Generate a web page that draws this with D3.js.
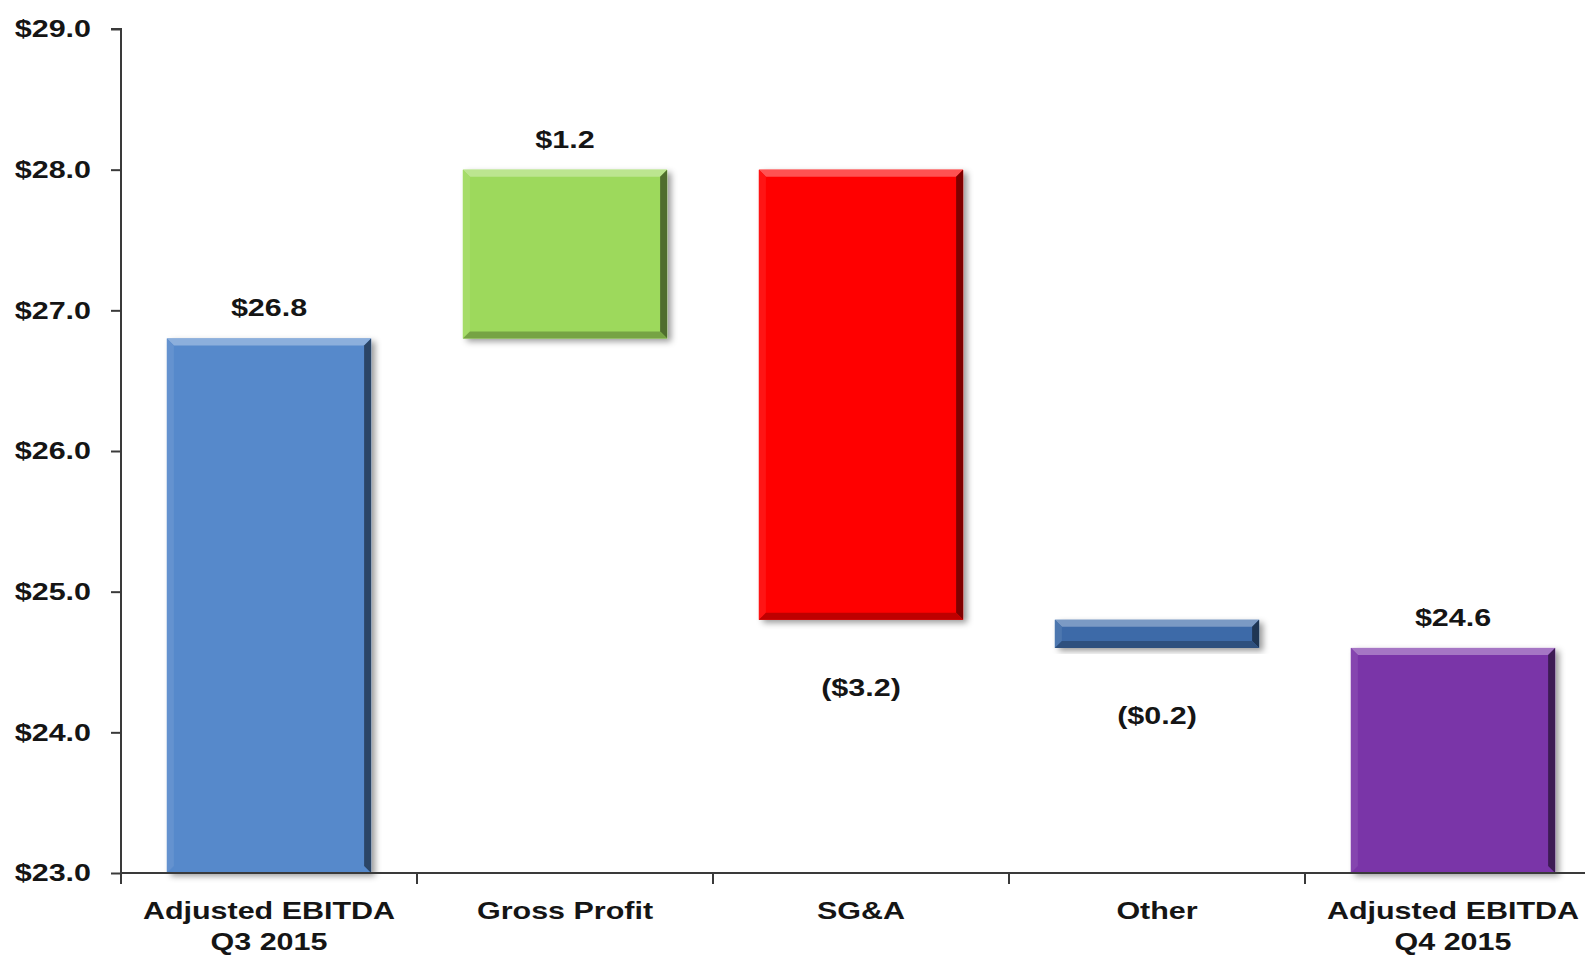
<!DOCTYPE html>
<html>
<head>
<meta charset="utf-8">
<script src="https://cdn.jsdelivr.net/npm/d3@7"></script>
<style>
  body { margin: 0; background: #fff; }
  svg { display: block; }
  text { font-family: Arial, "Liberation Sans", sans-serif; font-weight: bold; fill: #151515; }
</style>
</head>
<body>
<svg width="1585" height="959"></svg>
<script>
// waterfall: Q3 -> Q4 2015 adjusted EBITDA bridge ($M)
const categories = [
  ["Adjusted EBITDA", "Q3 2015"],
  ["Gross Profit"],
  ["SG&A"],
  ["Other"],
  ["Adjusted EBITDA", "Q4 2015"]
];
const amounts = [26.8, 1.2, -3.2, -0.2, 24.6];
const kinds = ["total", "delta", "delta", "delta", "total"];
const barColors = ["#5689CB", "#9DD95B", "#FF0000", "#3D6BA8", "#7A35A8"];
const yTicks = [23, 24, 25, 26, 27, 28, 29];

const svg = d3.select("svg");
const W = 1585;
const stretch = 1.27; // glyphs are drawn a bit wide

// running totals give each bar its start / end
let running = 0;
const bars = amounts.map((v, i) => {
  let lo, hi;
  if (kinds[i] === "total") {
    running = v;
    lo = 23; hi = v;
  } else {
    const prev = running;
    running = prev + v;
    lo = Math.min(prev, running);
    hi = Math.max(prev, running);
  }
  return { i, v, kind: kinds[i], lo, hi, color: barColors[i], cat: categories[i].join(" ") };
});

const x = d3.scaleBand()
  .domain(bars.map(d => d.cat))
  .range([121, 1601])
  .paddingInner(0.31)
  .paddingOuter(0.155);

const y = d3.scaleLinear().domain([23, 29]).range([873, 29]);

const defs = svg.append("defs");
const shadow = defs.append("filter").attr("id", "shade")
  .attr("x", "-10%").attr("y", "-10%").attr("width", "130%").attr("height", "130%");
shadow.append("feDropShadow")
  .attr("dx", 4).attr("dy", 3).attr("stdDeviation", 3)
  .attr("flood-color", "#000").attr("flood-opacity", 0.4);

const fmt = d => {
  const s = "$" + Math.abs(d.v).toFixed(1);
  return d.v < 0 ? "(" + s + ")" : s;
};

// bars with bevelled edges
const g = svg.append("g");
bars.forEach(d => {
  const x0 = x(d.cat), w = x.bandwidth();
  const y0 = y(d.hi), y1 = y(d.lo), h = y1 - y0;
  const b = Math.min(7, h / 3);
  const light = d3.interpolateRgb(d.color, "#fff")(0.32);
  const dark = d3.interpolateRgb(d.color, "#000")(0.5);
  const mid = d3.interpolateRgb(d.color, "#000")(0.25);
  const bg = g.append("g");
  bg.append("rect")
    .attr("x", x0).attr("y", y0).attr("width", w).attr("height", h)
    .attr("fill", d.color).attr("filter", "url(#shade)");
  const poly = (pts, fill) => bg.append("polygon")
    .attr("points", pts.map(p => p.join(",")).join(" "))
    .attr("fill", fill);
  // top
  poly([[x0, y0], [x0 + w, y0], [x0 + w - b, y0 + b], [x0 + b, y0 + b]], light);
  // left
  poly([[x0, y0], [x0 + b, y0 + b], [x0 + b, y1 - b], [x0, y1]], d3.interpolateRgb(d.color, "#fff")(0.08));
  // right
  poly([[x0 + w, y0], [x0 + w, y1], [x0 + w - b, y1 - b], [x0 + w - b, y0 + b]], dark);
  // bottom (totals sit on the axis, so only the floating bars show it)
  if (d.kind !== "total") {
    poly([[x0, y1], [x0 + w, y1], [x0 + w - b, y1 - b], [x0 + b, y1 - b]], mid);
  }
});

// value labels
const wideText = (sel, px, py, anchor) => sel.append("text")
  .attr("transform", `translate(${px},${py}) scale(${stretch},1)`)
  .attr("text-anchor", anchor || "middle")
  .style("font-size", "24px");

bars.forEach(d => {
  const cx = x(d.cat) + x.bandwidth() / 2;
  const py = d.v < 0 ? y(d.lo) + 76 : y(d.hi) - 22;
  wideText(svg, cx, py).text(fmt(d));
});

// y axis
const yAxis = svg.append("g")
  .attr("transform", "translate(121,0)")
  .call(d3.axisLeft(y).tickValues(yTicks).tickSize(10).tickFormat(""));
yAxis.selectAll("path, line").attr("stroke", "#3a3a3a").attr("stroke-width", 2);
yAxis.select(".domain").attr("d", "M-10,29H0V873");
yTicks.forEach(t => {
  wideText(svg, 91, y(t), "end").attr("dy", "0.35em").text("$" + t.toFixed(1));
});

// x axis with ticks on the category boundaries
const gap = x.step() - x.bandwidth();
const edges = x.domain().map(c => x(c) - gap / 2).concat([x(x.domain()[4]) + x.bandwidth() + gap / 2]);
svg.append("line")
  .attr("x1", 121).attr("x2", W).attr("y1", 873).attr("y2", 873)
  .attr("stroke", "#3a3a3a").attr("stroke-width", 2);
svg.selectAll(".xtick").data(edges).join("line")
  .attr("class", "xtick")
  .attr("x1", d => d).attr("x2", d => d)
  .attr("y1", 873).attr("y2", 884)
  .attr("stroke", "#3a3a3a").attr("stroke-width", 2);

bars.forEach(d => {
  const cx = x(d.cat) + x.bandwidth() / 2;
  const t = wideText(svg, cx, 919);
  categories[d.i].forEach((line, k) => {
    t.append("tspan").attr("x", 0).attr("dy", k === 0 ? 0 : 31).text(line);
  });
});
</script>
</body>
</html>
